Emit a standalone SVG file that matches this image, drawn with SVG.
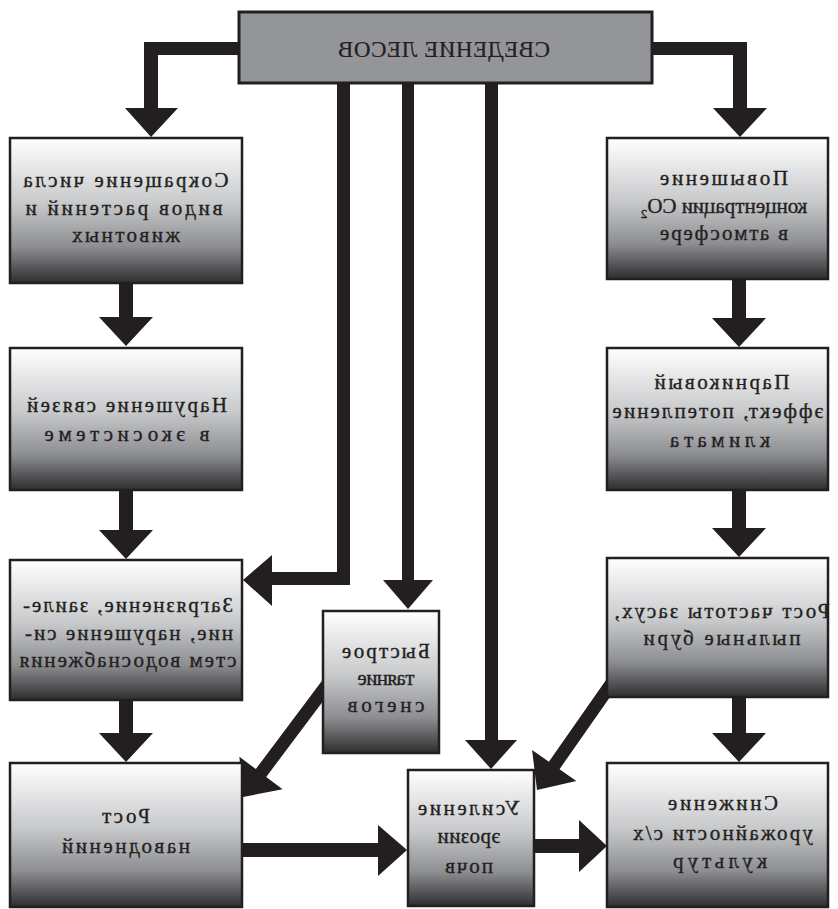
<svg xmlns="http://www.w3.org/2000/svg" width="838" height="909" viewBox="0 0 838 909">
  <defs>
    <linearGradient id="boxFill" x1="0" y1="0" x2="0" y2="1">
      <stop offset="0" stop-color="#ffffff"/>
      <stop offset="0.45" stop-color="#c8c9cb"/>
      <stop offset="0.75" stop-color="#8d8e91"/>
      <stop offset="1" stop-color="#2e2e2f"/>
    </linearGradient>
    <path id="diagArrow150" d="M0 -6.5 H120 V-27 L150 0 L120 27 V6.5 H0 Z"/>
    <path id="diagArrow140" d="M0 -6.5 H110 V-27 L140 0 L110 27 V6.5 H0 Z"/>
  </defs>
  <style>
    .box { fill: url(#boxFill); stroke: #231f20; stroke-width: 2.5; }
    .top { fill: #939598; stroke: #231f20; stroke-width: 3; }
    .arrow { fill: #231f20; stroke: none; }
    text { font-family: "Liberation Serif", "Times New Roman", serif; font-size: 21px; fill: #231f20; stroke: #231f20; stroke-width: 0.35; text-anchor: middle; }
    .title { font-size: 23px; stroke-width: 0.2; }
  </style>
  <rect width="838" height="909" fill="#ffffff"/>

  <!-- connectors -->
  <g id="connectors">
    <!-- top elbows -->
    <path class="arrow" d="M239 42 H144 V108 H125 L151 137 L178 108 H158 V55 H239 Z"/>
    <path class="arrow" d="M652 42 H747 V108 H767 L740 137 L713 108 H733 V55 H652 Z"/>
    <!-- drops from the top box -->
    <path class="arrow" d="M337 83 V572 H272 V555 L243 580 L272 606 V585 H350 V83 Z"/>
    <path class="arrow" d="M402 83 V580 H383 L408 609 L433 580 H414 V83 Z"/>
    <path class="arrow" d="M485 83 V740 H465 L491 769 L517 740 H498 V83 Z"/>
    <!-- left column -->
    <path class="arrow" d="M119 283 V317 H99 L126 346 L153 317 H133 V283 Z"/>
    <path class="arrow" d="M119 490 V530 H99 L126 559 L153 530 H133 V490 Z"/>
    <path class="arrow" d="M119 700 V733 H99 L126 762 L153 733 H133 V700 Z"/>
    <!-- right column -->
    <path class="arrow" d="M732 279 V318 H712 L739 347 L766 318 H746 V279 Z"/>
    <path class="arrow" d="M732 490 V528 H712 L739 557 L766 528 H746 V490 Z"/>
    <path class="arrow" d="M732 697 V733 H712 L739 762 L766 733 H746 V697 Z"/>
    <!-- bottom row -->
    <path class="arrow" d="M242 843 H378 V825 L407 850 L378 876 V857 H242 Z"/>
    <path class="arrow" d="M534 839 H579 V820 L607 846 L579 872 V853 H534 Z"/>
    <!-- diagonals -->
    <use href="#diagArrow150" class="arrow" transform="translate(333 677) rotate(126.87)"/>
    <use href="#diagArrow140" class="arrow" transform="translate(617.3 675.3) rotate(125)"/>
  </g>

  <!-- nodes -->
  <g id="node-top">
    <rect class="top" x="239" y="12" width="413" height="71"/>
    <text class="title" transform="translate(444 57) scale(-1 1)" textLength="212" lengthAdjust="spacing">СВЕДЕНИЕ ЛЕСОВ</text>
  </g>

  <g id="node-species">
    <rect class="box" x="10" y="138" width="232" height="145"/>
    <text transform="translate(126 187) scale(-1 1)" textLength="205" lengthAdjust="spacing">Сокращение числа</text>
    <text transform="translate(124 215) scale(-1 1)" textLength="197" lengthAdjust="spacing">видов растений и</text>
    <text transform="translate(126 242) scale(-1 1)" textLength="108" lengthAdjust="spacing">животных</text>
  </g>

  <g id="node-ecosystem">
    <rect class="box" x="10" y="348" width="232" height="142"/>
    <text transform="translate(127 412) scale(-1 1)" textLength="200" lengthAdjust="spacing">Нарушение связей</text>
    <text transform="translate(127 441) scale(-1 1)" textLength="165" lengthAdjust="spacing">в экосистеме</text>
  </g>

  <g id="node-water">
    <rect class="box" x="10" y="560" width="232" height="140"/>
    <text transform="translate(128 612) scale(-1 1)" textLength="210" lengthAdjust="spacing">Загрязнение, заиле-</text>
    <text transform="translate(129 640) scale(-1 1)" textLength="208" lengthAdjust="spacing">ние, нарушение си-</text>
    <text transform="translate(128 667) scale(-1 1)" textLength="217" lengthAdjust="spacing">стем водоснабжения</text>
  </g>

  <g id="node-floods">
    <rect class="box" x="10" y="763" width="232" height="144"/>
    <text transform="translate(126 823) scale(-1 1)" textLength="48" lengthAdjust="spacing">Рост</text>
    <text transform="translate(126 853) scale(-1 1)" textLength="128" lengthAdjust="spacing">наводнений</text>
  </g>

  <g id="node-snowmelt">
    <rect class="box" x="323" y="611" width="116" height="142"/>
    <text transform="translate(386 658) scale(-1 1)" textLength="88" lengthAdjust="spacing">Быстрое</text>
    <text transform="translate(386 685) scale(-1 1)" textLength="57" lengthAdjust="spacing">таяние</text>
    <text transform="translate(386 712) scale(-1 1)" textLength="77" lengthAdjust="spacing">снегов</text>
  </g>

  <g id="node-erosion">
    <rect class="box" x="408" y="770" width="126" height="136"/>
    <text transform="translate(469 815) scale(-1 1)" textLength="102" lengthAdjust="spacing">Усиление</text>
    <text transform="translate(469 843) scale(-1 1)" textLength="63" lengthAdjust="spacing">эрозии</text>
    <text transform="translate(469 873) scale(-1 1)" textLength="48" lengthAdjust="spacing">почв</text>
  </g>

  <g id="node-co2">
    <rect class="box" x="607" y="138" width="221" height="141"/>
    <text transform="translate(724 185) scale(-1 1)" textLength="128" lengthAdjust="spacing">Повышение</text>
    <text transform="translate(724 213) scale(-1 1)">концентрации CO<tspan font-size="13" dy="5">2</tspan></text>
    <text transform="translate(724 240) scale(-1 1)" textLength="128" lengthAdjust="spacing">в атмосфере</text>
  </g>

  <g id="node-greenhouse">
    <rect class="box" x="607" y="348" width="221" height="142"/>
    <text transform="translate(722 389) scale(-1 1)" textLength="135" lengthAdjust="spacing">Парниковый</text>
    <text transform="translate(718 418) scale(-1 1)" textLength="211" lengthAdjust="spacing">эффект, потепление</text>
    <text transform="translate(720 447) scale(-1 1)" textLength="100" lengthAdjust="spacing">климата</text>
  </g>

  <g id="node-drought">
    <rect class="box" x="607" y="558" width="221" height="139"/>
    <text transform="translate(722 618) scale(-1 1)" textLength="215" lengthAdjust="spacing">Рост частоты засух,</text>
    <text transform="translate(722 645) scale(-1 1)" textLength="157" lengthAdjust="spacing">пыльные бури</text>
  </g>

  <g id="node-harvest">
    <rect class="box" x="607" y="763" width="221" height="144"/>
    <text transform="translate(723 810) scale(-1 1)" textLength="110" lengthAdjust="spacing">Снижение</text>
    <text transform="translate(723 840) scale(-1 1)" textLength="180" lengthAdjust="spacing">урожайности с/х</text>
    <text transform="translate(720 868) scale(-1 1)" textLength="94" lengthAdjust="spacing">культур</text>
  </g>
</svg>
